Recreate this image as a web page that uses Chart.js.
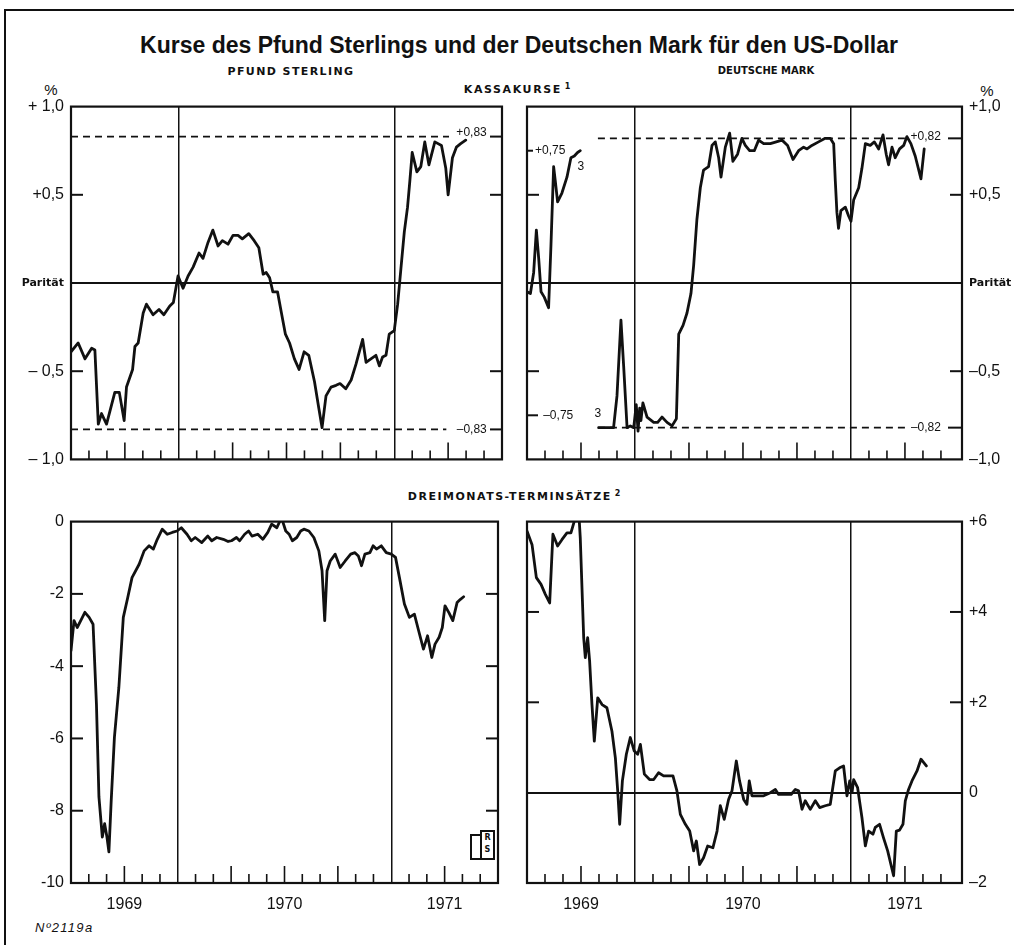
<!DOCTYPE html>
<html><head><meta charset="utf-8">
<script src="https://cdn.jsdelivr.net/npm/chart.js@4.4.1/dist/chart.umd.min.js"></script>
<style>
body{margin:0;background:#fff;}
#wrap{position:relative;width:1014px;height:945px;overflow:hidden;background:#fff;color:#111;}
canvas{position:absolute;}
.t{position:absolute;white-space:nowrap;transform:translate(-50%,-50%);line-height:1;}
.hd{font-family:'DejaVu Sans',sans-serif;font-weight:bold;font-size:10.5px;}
</style></head><body><div id="wrap">
<div style="position:absolute;left:4px;top:9px;width:2px;height:940px;background:#111"></div>
<div style="position:absolute;left:4px;top:9px;width:1010px;height:2px;background:#111"></div>
<div class="t" style="left:519px;top:45px;font-family:'Liberation Sans',Arial,sans-serif;font-weight:bold;font-size:23px;">Kurse des Pfund Sterlings und der Deutschen Mark für den US-Dollar</div>
<div class="t hd" style="left:291px;top:71px;font-size:11px;letter-spacing:1.4px;">PFUND STERLING</div>
<div class="t hd" style="left:766px;top:71px;font-size:10px;">DEUTSCHE MARK</div>
<div class="t hd" style="left:517px;top:89px;font-size:11px;letter-spacing:1.6px;">KASSAKURSE<sup style="font-size:8px;vertical-align:4px;letter-spacing:0"> 1</sup></div>
<div class="t hd" style="left:514px;top:496px;font-size:11px;letter-spacing:1.5px;">DREIMONATS-TERMINSÄTZE<sup style="font-size:8px;vertical-align:4px;letter-spacing:0"> 2</sup></div>
<div class="t" style="left:51px;top:89px;font-family:'Liberation Sans',Arial,sans-serif;font-size:15px;">%</div>
<div class="t" style="left:987px;top:90px;font-family:'Liberation Sans',Arial,sans-serif;font-size:15px;">%</div>
<div style="position:absolute;left:35px;top:920px;font-family:'Liberation Sans',Arial,sans-serif;font-style:italic;font-size:13px;letter-spacing:1.3px;">Nº2119a</div>
<div style="position:absolute;left:470px;top:834px;width:8px;height:22px;border:2px solid #111;"></div>
<div style="position:absolute;left:480px;top:830px;width:11px;height:26px;border:2px solid #111;font:bold 8px 'DejaVu Sans',sans-serif;text-align:center;line-height:12px;">R<br>S</div>
<canvas id="c1" width="510" height="386" style="left:0px;top:90px"></canvas>
<canvas id="c2" width="499" height="386" style="left:515px;top:90px"></canvas>
<canvas id="c3" width="510" height="420" style="left:0px;top:505px"></canvas>
<canvas id="c4" width="499" height="420" style="left:515px;top:505px"></canvas>
</div>
<script>
// x = months since 1 July 1969 (0..24); vertical rules mark the year boundaries
const monthTicks = [0,1,2,3,4,5,6,7,8,9,10,11,12,13,14,15,16,17,18,19,20,21,22,23,24];
const yearLabels = {3:'1969', 12:'1970', 21:'1971'};
const yearLines = [6, 18];
const shortTicks = [1,2,4,5,7,8,10,11,13,14,16,17,19,20,22,23];
const tallTicks = [3,9,12,15,21];

const spotTicks = [-1,-0.5,0,0.5,1];
const spotLabelsL = {'-1':'– 1,0','-0.5':'– 0,5','0':'Parität','0.5':'+0,5','1':'+ 1,0'};
const spotLabelsR = {'-1':'–1,0','-0.5':'–0,5','0':'Parität','0.5':'+0,5','1':'+1,0'};
const gbpFwdTicks = [-10,-8,-6,-4,-2,0];
const gbpFwdLabels = {'-10':'-10','-8':'-8','-6':'-6','-4':'-4','-2':'-2','0':'0'};
const dmFwdTicks = [-2,0,2,4,6];
const dmFwdLabels = {'-2':'–2','0':'0','2':'+2','4':'+4','6':'+6'};

const gbpBand = 0.83;
const dmBandOld = 0.75;
const dmBand = 0.82;

// Pfund Sterling, Kassakurs (% Abweichung von der Parität)
const gbpSpot = [[0,-0.39],[0.4,-0.34],[0.78,-0.43],[1.15,-0.37],[1.33,-0.38],[1.52,-0.80],[1.7,-0.74],[1.98,-0.80],[2.44,-0.62],[2.69,-0.62],[2.96,-0.78],[3.09,-0.59],[3.43,-0.49],[3.56,-0.36],[3.74,-0.34],[4.02,-0.17],[4.2,-0.12],[4.57,-0.18],[4.9,-0.15],[5.17,-0.18],[5.5,-0.13],[5.7,-0.11],[5.96,0.04],[6.24,-0.03],[6.52,0.04],[6.8,0.09],[7.13,0.17],[7.35,0.14],[7.63,0.23],[7.9,0.30],[8.19,0.21],[8.43,0.24],[8.74,0.22],[9.02,0.27],[9.3,0.27],[9.54,0.25],[9.9,0.28],[10.2,0.24],[10.46,0.20],[10.7,0.05],[10.87,0.06],[11.06,0.03],[11.24,-0.05],[11.5,-0.05],[11.7,-0.16],[11.94,-0.29],[12.17,-0.34],[12.44,-0.43],[12.7,-0.49],[12.98,-0.39],[13.24,-0.41],[13.56,-0.56],[13.8,-0.71],[13.98,-0.82],[14.2,-0.64],[14.48,-0.59],[14.76,-0.58],[14.98,-0.57],[15.3,-0.60],[15.6,-0.55],[15.87,-0.46],[16.24,-0.32],[16.43,-0.45],[16.7,-0.43],[16.98,-0.41],[17.17,-0.47],[17.35,-0.42],[17.54,-0.41],[17.72,-0.29],[18.0,-0.27],[18.19,-0.12],[18.37,0.08],[18.56,0.29],[18.74,0.43],[18.87,0.58],[19.0,0.74],[19.26,0.63],[19.48,0.66],[19.7,0.80],[19.93,0.67],[20.26,0.80],[20.63,0.78],[20.87,0.65],[21.0,0.50],[21.24,0.71],[21.46,0.77],[21.7,0.79],[21.98,0.81]];

// Deutsche Mark, Kassakurs – before and after the float of autumn 1969
const dmSpotA = [[0,-0.05],[0.19,-0.06],[0.37,0.06],[0.52,0.30],[0.65,0.14],[0.78,-0.05],[0.96,-0.08],[1.2,-0.14],[1.33,0.21],[1.48,0.66],[1.57,0.58],[1.7,0.46],[1.94,0.51],[2.22,0.60],[2.44,0.71],[2.63,0.72],[2.81,0.74],[2.96,0.75]];
const dmSpotB = [[3.98,-0.82],[4.81,-0.82],[5.0,-0.64],[5.22,-0.21],[5.37,-0.47],[5.56,-0.82],[5.74,-0.81],[5.93,-0.82],[6.07,-0.69],[6.17,-0.84],[6.26,-0.71],[6.33,-0.78],[6.44,-0.68],[6.67,-0.76],[7.04,-0.79],[7.26,-0.79],[7.5,-0.76],[7.78,-0.79],[8.06,-0.81],[8.3,-0.77],[8.43,-0.29],[8.67,-0.24],[8.89,-0.17],[9.11,-0.06],[9.26,0.10],[9.44,0.36],[9.63,0.54],[9.81,0.64],[10.09,0.66],[10.28,0.78],[10.46,0.80],[10.65,0.71],[10.78,0.60],[11.02,0.77],[11.26,0.85],[11.44,0.69],[11.7,0.73],[11.94,0.82],[12.13,0.78],[12.37,0.75],[12.63,0.75],[12.87,0.81],[13.15,0.79],[13.52,0.79],[13.85,0.80],[14.17,0.81],[14.48,0.78],[14.78,0.70],[15.09,0.75],[15.37,0.77],[15.56,0.76],[15.83,0.78],[16.2,0.80],[16.57,0.82],[16.85,0.82],[17.04,0.79],[17.13,0.58],[17.22,0.40],[17.31,0.31],[17.44,0.41],[17.69,0.43],[17.87,0.38],[18.0,0.35],[18.15,0.47],[18.43,0.54],[18.61,0.65],[18.8,0.79],[19.07,0.78],[19.3,0.80],[19.54,0.76],[19.78,0.84],[19.96,0.73],[20.09,0.67],[20.28,0.77],[20.46,0.71],[20.7,0.76],[20.93,0.78],[21.11,0.83],[21.33,0.79],[21.57,0.72],[21.89,0.59],[22.07,0.76]];

// Dreimonats-Terminsätze (% p.a.)
const gbpFwd = [[0,-3.57],[0.17,-2.74],[0.35,-2.93],[0.59,-2.70],[0.78,-2.51],[1.02,-2.65],[1.24,-2.84],[1.43,-5.05],[1.57,-7.62],[1.76,-8.73],[1.89,-8.36],[2.02,-8.73],[2.13,-9.14],[2.26,-7.72],[2.44,-5.97],[2.69,-4.59],[2.94,-2.65],[3.19,-2.10],[3.43,-1.55],[3.83,-1.18],[4.11,-0.81],[4.39,-0.67],[4.63,-0.76],[4.85,-0.49],[5.13,-0.21],[5.41,-0.35],[5.69,-0.30],[5.96,-0.26],[6.2,-0.17],[6.52,-0.35],[6.76,-0.53],[6.98,-0.44],[7.35,-0.58],[7.69,-0.40],[7.91,-0.53],[8.19,-0.44],[8.56,-0.49],[8.83,-0.55],[9.02,-0.53],[9.3,-0.44],[9.48,-0.53],[9.76,-0.35],[9.98,-0.26],[10.17,-0.40],[10.5,-0.35],[10.78,-0.49],[11.06,-0.30],[11.28,-0.07],[11.57,-0.17],[11.83,0.11],[12.07,-0.26],[12.26,-0.35],[12.44,-0.53],[12.69,-0.44],[12.91,-0.26],[13.09,-0.21],[13.37,-0.26],[13.65,-0.44],[13.93,-0.81],[14.11,-1.36],[14.26,-2.74],[14.39,-1.36],[14.57,-1.09],[14.85,-0.90],[15.13,-1.27],[15.41,-1.09],[15.72,-0.90],[15.96,-0.86],[16.15,-0.95],[16.33,-1.22],[16.52,-0.90],[16.8,-0.86],[16.98,-0.67],[17.17,-0.76],[17.44,-0.67],[17.72,-0.86],[18.0,-0.90],[18.24,-0.99],[18.46,-1.55],[18.74,-2.28],[19.02,-2.65],[19.3,-2.56],[19.54,-3.02],[19.81,-3.53],[20.04,-3.16],[20.28,-3.76],[20.46,-3.39],[20.69,-3.20],[20.87,-2.93],[21.02,-2.33],[21.24,-2.52],[21.46,-2.74],[21.7,-2.24],[21.89,-2.15],[22.07,-2.08]];
const dmFwd = [[0,5.79],[0.28,5.49],[0.52,4.76],[0.78,4.61],[1.02,4.39],[1.26,4.20],[1.44,5.72],[1.7,5.46],[1.94,5.60],[2.22,5.75],[2.44,5.75],[2.63,6.01],[2.87,6.25],[2.96,5.64],[3.15,3.43],[3.24,2.99],[3.37,3.43],[3.48,2.91],[3.61,1.95],[3.74,1.14],[3.93,2.10],[4.17,1.95],[4.44,1.88],[4.72,1.36],[4.91,0.77],[5.04,0.04],[5.15,-0.70],[5.3,0.26],[5.52,0.85],[5.74,1.22],[5.96,0.92],[6.15,0.85],[6.3,1.07],[6.52,0.41],[6.81,0.29],[7.04,0.29],[7.31,0.44],[7.59,0.37],[7.87,0.37],[8.11,0.37],[8.33,0.04],[8.52,-0.48],[8.8,-0.70],[9.04,-0.85],[9.26,-1.29],[9.41,-1.07],[9.59,-1.59],[9.81,-1.44],[10.04,-1.18],[10.33,-1.22],[10.56,-0.85],[10.74,-0.29],[10.96,-0.59],[11.2,-0.15],[11.39,0.04],[11.63,0.70],[11.81,0.26],[12.04,-0.15],[12.22,-0.26],[12.35,0.26],[12.5,-0.07],[12.78,-0.07],[13.15,-0.07],[13.52,0.00],[13.8,0.07],[13.98,-0.04],[14.35,-0.04],[14.67,-0.04],[14.91,0.07],[15.09,0.04],[15.28,-0.37],[15.46,-0.18],[15.74,-0.37],[16.02,-0.18],[16.26,-0.33],[16.57,-0.29],[16.85,-0.26],[17.13,0.48],[17.37,0.55],[17.59,0.59],[17.78,-0.07],[17.93,0.26],[18.06,0.00],[18.15,0.29],[18.37,0.11],[18.61,-0.55],[18.8,-1.18],[18.98,-0.85],[19.22,-0.92],[19.35,-0.77],[19.59,-0.70],[19.81,-1.00],[20.04,-1.29],[20.22,-1.59],[20.37,-1.84],[20.52,-0.85],[20.7,-0.83],[20.89,-0.70],[21.02,-0.18],[21.2,0.07],[21.39,0.26],[21.67,0.48],[21.89,0.74],[22.19,0.59]];

const INK = '#111';
const TICKFONT = "'Liberation Sans',Arial,sans-serif";
const SMALL = "12px 'Liberation Sans',Arial,sans-serif";

const toXY = arr => arr.map(p => ({x: p[0], y: p[1]}));
const seriesDs = arr => ({data: toXY(arr), borderColor: INK, borderWidth: 2.8, pointRadius: 0, tension: 0, borderJoinStyle: 'round', borderCapStyle: 'round'});
const bandDs = (x0, x1, v) => ({data: [{x: x0, y: v}, {x: x1, y: v}], borderColor: INK, borderWidth: 1.6, borderDash: [7, 5], pointRadius: 0});

const decor = {
  id: 'decor',
  afterDraw(chart, args, o) {
    const {ctx, chartArea: a} = chart;
    const x = chart.scales.x, y = chart.scales.y;
    const seg = (x1, y1, x2, y2) => { ctx.beginPath(); ctx.moveTo(x1, y1); ctx.lineTo(x2, y2); ctx.stroke(); };
    ctx.save();
    ctx.strokeStyle = INK; ctx.fillStyle = INK;
    ctx.lineWidth = 1.6;
    shortTicks.forEach(v => { const px = x.getPixelForValue(v); seg(px, a.bottom, px, a.bottom - 9); });
    tallTicks.forEach(v => { const px = x.getPixelForValue(v); seg(px, a.bottom, px, a.bottom - 17); });
    ctx.lineWidth = 2;
    (o.yBoth || []).forEach(v => { const py = y.getPixelForValue(v); seg(a.left, py, a.left + 12, py); seg(a.right - 12, py, a.right, py); });
    (o.yLeft || []).forEach(p => { const py = y.getPixelForValue(p[0]); seg(a.left, py, a.left + p[1], py); });
    (o.yRight || []).forEach(p => { const py = y.getPixelForValue(p[0]); seg(a.right - p[1], py, a.right, py); });
    ctx.lineWidth = 2.2;
    ctx.strokeRect(a.left, a.top, a.right - a.left, a.bottom - a.top);
    (o.texts || []).forEach(t => {
      ctx.font = t.font || SMALL; ctx.textAlign = t.align || 'left'; ctx.textBaseline = 'middle';
      ctx.fillText(t.text, x.getPixelForValue(t.x), y.getPixelForValue(t.y));
    });
    ctx.restore();
  }
};

function panel(id, cfg) {
  new Chart(document.getElementById(id), {
    type: 'line',
    data: {datasets: cfg.datasets},
    plugins: [decor],
    options: {
      responsive: false, animation: false,
      layout: {padding: cfg.padding},
      plugins: {legend: {display: false}, tooltip: {enabled: false}, decor: cfg.decor},
      scales: {
        x: {
          type: 'linear', min: 0, max: cfg.xMax,
          afterBuildTicks: s => { s.ticks = monthTicks.map(v => ({value: v})); },
          afterFit: s => { s.height = cfg.xHeight; },
          border: {display: false},
          grid: {drawTicks: false,
                 color: c => yearLines.includes(c.tick && c.tick.value) ? INK : 'rgba(0,0,0,0)',
                 lineWidth: 1.5},
          ticks: {display: cfg.xLabels, autoSkip: false, maxRotation: 0, padding: 12, color: INK,
                  font: {family: TICKFONT, size: 16},
                  callback: v => yearLabels[v] || ''}
        },
        y: {
          type: 'linear', position: cfg.yPos, min: cfg.yMin, max: cfg.yMax,
          afterBuildTicks: s => { s.ticks = cfg.yTicks.map(v => ({value: v})); },
          afterFit: s => { s.width = cfg.yWidth; },
          border: {display: false},
          grid: {drawTicks: false,
                 color: c => (cfg.zeroLine && c.tick && c.tick.value === 0) ? INK : 'rgba(0,0,0,0)',
                 lineWidth: 2},
          ticks: {padding: 7, color: INK,
                  font: c => (c.tick && c.tick.label === 'Parität') ? {family: "'DejaVu Sans',sans-serif", size: 11, weight: 'bold'} : {family: TICKFONT, size: 16},
                  callback: v => cfg.yLabels[String(v)]}
        }
      }
    }
  });
}

panel('c1', {
  datasets: [bandDs(0, 21.05, gbpBand), bandDs(0, 20.9, -gbpBand), seriesDs(gbpSpot)],
  padding: {top: 14, right: 8, bottom: 9, left: 0}, xMax: 24, xHeight: 0, xLabels: false,
  yPos: 'left', yWidth: 71, yMin: -1, yMax: 1, yTicks: spotTicks, yLabels: spotLabelsL, zeroLine: true,
  decor: {yBoth: [0.5, -0.5], yRight: [[gbpBand, 12], [-gbpBand, 12]],
          texts: [{x: 23.15, y: 0.85, text: '+0,83', align: 'right'}, {x: 23.15, y: -0.83, text: '–0,83', align: 'right'}]}
});

panel('c2', {
  datasets: [bandDs(3.94, 21.2, dmBand), bandDs(3.94, 21.1, -dmBand), seriesDs(dmSpotA), seriesDs(dmSpotB)],
  padding: {top: 14, right: 0, bottom: 9, left: 12}, xMax: 24.17, xHeight: 0, xLabels: false,
  yPos: 'right', yWidth: 52, yMin: -1, yMax: 1, yTicks: spotTicks, yLabels: spotLabelsR, zeroLine: true,
  decor: {yBoth: [0.5, -0.5], yLeft: [[dmBandOld, 6], [-dmBandOld, 11]], yRight: [[dmBand, 14], [-dmBand, 14]],
          texts: [{x: 0.45, y: dmBandOld, text: '+0,75'}, {x: 0.9, y: -dmBandOld, text: '–0,75'},
                  {x: 2.8, y: 0.66, text: '3'}, {x: 3.75, y: -0.74, text: '3'},
                  {x: 23.0, y: 0.83, text: '+0,82', align: 'right'}, {x: 23.0, y: -0.82, text: '–0,82', align: 'right'}]}
});

panel('c3', {
  datasets: [seriesDs(gbpFwd)],
  padding: {top: 16, right: 8, bottom: 12, left: 0}, xMax: 24, xHeight: 30, xLabels: true,
  yPos: 'left', yWidth: 71, yMin: -10, yMax: 0, yTicks: gbpFwdTicks, yLabels: gbpFwdLabels, zeroLine: false,
  decor: {yBoth: [-2, -4, -6, -8]}
});

panel('c4', {
  datasets: [seriesDs(dmFwd)],
  padding: {top: 16, right: 0, bottom: 12, left: 12}, xMax: 24.17, xHeight: 30, xLabels: true,
  yPos: 'right', yWidth: 52, yMin: -2, yMax: 6, yTicks: dmFwdTicks, yLabels: dmFwdLabels, zeroLine: true,
  decor: {yBoth: [2, 4]}
});
</script>
</body></html>
